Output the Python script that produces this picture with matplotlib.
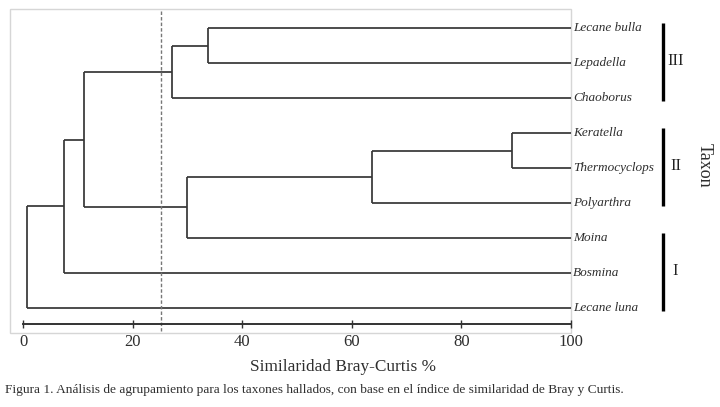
import matplotlib
matplotlib.use("Agg")
import matplotlib.pyplot as plt
from matplotlib.patches import Rectangle

# Taxa in the order they appear top to bottom
taxa = ["Lecane bulla", "Lepadella", "Chaoborus", "Keratella", "Thermocyclops",
        "Polyarthra", "Moina", "Bosmina", "Lecane luna"]

# Merges (child a, child b, Bray-Curtis similarity %); new nodes get ids 9, 10, ...
merge_a = [0, 9, 3, 11, 12, 10, 14, 15]
merge_b = [1, 2, 4, 5, 6, 13, 7, 8]
merge_sim = [33.8, 27.2, 89.3, 63.7, 29.8, 11.0, 7.5, 0.6]

cut_level = 25.1

# Groups on the right: label, first and last taxon index
group_names = ["III", "II", "I"]
group_first = [0, 3, 6]
group_last = [2, 5, 8]

x_ticks = [0, 20, 40, 60, 80, 100]

serif = ["Liberation Serif", "DejaVu Serif"]
line_col = "#363636"
text_col = "#2e2e2e"

fig = plt.figure(figsize=(7.2, 4.07), dpi=100)
# axes box = the light grey frame (pixels 10..571 horizontally, 9..333 vertically)
ax = fig.add_axes([10 / 720, 1 - 333 / 407, 561 / 720, 324 / 407])
ax.set_xlim(-2.43, 100)
ax.set_ylim(8.71, -0.543)

# node positions: leaves sit at similarity 100
pos_x = [100.0] * len(taxa)
pos_y = [float(i) for i in range(len(taxa))]
for a, b, s in zip(merge_a, merge_b, merge_sim):
    for c in (a, b):
        ax.plot([s, pos_x[c]], [pos_y[c], pos_y[c]], color=line_col, lw=1.25,
                solid_capstyle="butt")
    ax.plot([s, s], [pos_y[a], pos_y[b]], color=line_col, lw=1.25,
            solid_capstyle="butt")
    pos_x.append(s)
    pos_y.append((pos_y[a] + pos_y[b]) / 2)

ax.plot([cut_level, cut_level], [-0.48, 8.66], color="#777777", lw=1.0,
        linestyle=(0, (2.5, 1.5)))

# frame
ax.add_patch(Rectangle((0, 0), 1, 1, transform=ax.transAxes, fill=False,
                       edgecolor="#d6d6d6", lw=1.0, clip_on=False))
for side in ["top", "left", "right"]:
    ax.spines[side].set_visible(False)
ax.spines["bottom"].set_position(("data", 8.46))
ax.spines["bottom"].set_bounds(0, 100)
ax.spines["bottom"].set_color("#333333")
ax.spines["bottom"].set_linewidth(1.4)
ax.set_xticks(x_ticks)
ax.set_xticklabels([str(t) for t in x_ticks], family=serif, fontsize=12,
                   color=text_col)
ax.tick_params(axis="x", direction="inout", length=6, width=1.0,
               color="#333333", pad=4)
ax.set_yticks([])

# taxon labels
for i, name in enumerate(taxa):
    ax.text(100.4, i, name, family=serif, style="italic", fontsize=9.5,
            color=text_col, va="center", ha="left", clip_on=False)

# group bars
for name, g0, g1 in zip(group_names, group_first, group_last):
    ax.plot([116.8, 116.8], [g0 - 0.14, g1 + 0.08], color="black", lw=2.4,
            clip_on=False, solid_capstyle="butt")
    ax.text(119.1, (g0 + g1) / 2 - 0.05, name, family=serif, fontsize=12,
            color="#222222", va="center", ha="center", clip_on=False)

fig.text(704 / 720, 1 - 165 / 407, "Taxon", rotation=-90, family=serif,
         fontsize=13, color=text_col, va="center", ha="center")

fig.text(343 / 720, 1 - 367 / 407, "Similaridad Bray-Curtis %", family=serif,
         fontsize=12.4, color=text_col, va="center", ha="center")

fig.text(5 / 720, 1 - 390 / 407,
         "Figura 1. Análisis de agrupamiento para los taxones hallados, con base "
         "en el índice de similaridad de Bray y Curtis.",
         family=serif, fontsize=9.6, color=text_col, va="center", ha="left")

fig.savefig("out.png", dpi=100, facecolor="white")
